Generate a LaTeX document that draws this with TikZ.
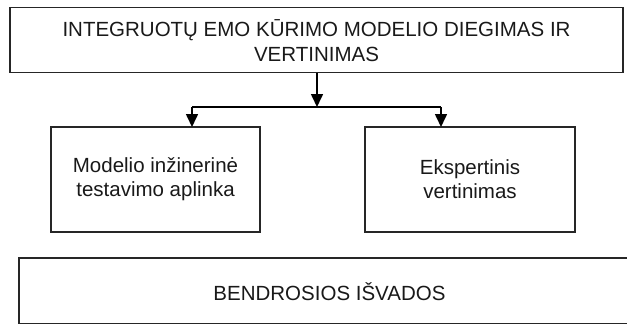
\documentclass[tikz,border=0pt]{standalone}
\usepackage{fontspec}
\setmainfont{Liberation Sans}
\usetikzlibrary{arrows.meta}
\begin{document}
\begin{tikzpicture}[x=1pt,y=-1pt,
  boxline/.style={draw=black!85, line width=1.6pt},
  lbl/.style={font=\fontsize{20.5}{24}\selectfont, align=center, text=black!90, inner sep=0pt},
  conn/.style={draw=black, line width=1.6pt},
  arr/.style={conn, -{Triangle[length=13pt,width=12pt]}}
]
\useasboundingbox (0,0) rectangle (627,324);
\clip (0,0) rectangle (627,324);
% boxes
\draw[boxline] (10,7.5) rectangle (623,72.5);
\node[lbl, font=\fontsize{20.5}{25.7}\selectfont] (top) at (316.5,40.5) {INTEGRUOTŲ EMO KŪRIMO MODELIO DIEGIMAS IR\\VERTINIMAS};
\coordinate (topS) at (317,72.5);
\draw[boxline] (51,127) rectangle (260,232);
\node[lbl] (left) at (155.5,179.5) {Modelio inžinerinė\\testavimo aplinka};
\coordinate (leftN) at (192,127);
\draw[boxline] (365,127) rectangle (575,232);
\node[lbl] (right) at (470,179.5) {Ekspertinis\\vertinimas};
\coordinate (rightN) at (441,127);
\draw[boxline] (19,258) rectangle (641,323.5);
\node[lbl] (bottom) at (329.5,291.5) {BENDROSIOS IŠVADOS};
% connectors
\coordinate (j) at (317,107);
\coordinate (jl) at (192,107);
\coordinate (jr) at (441,107);
\draw[arr] (topS) -- (j);
\draw[conn] (jl) -- (jr);
\draw[arr] (jl) -- (leftN);
\draw[arr] (jr) -- (rightN);
\end{tikzpicture}
\end{document}
